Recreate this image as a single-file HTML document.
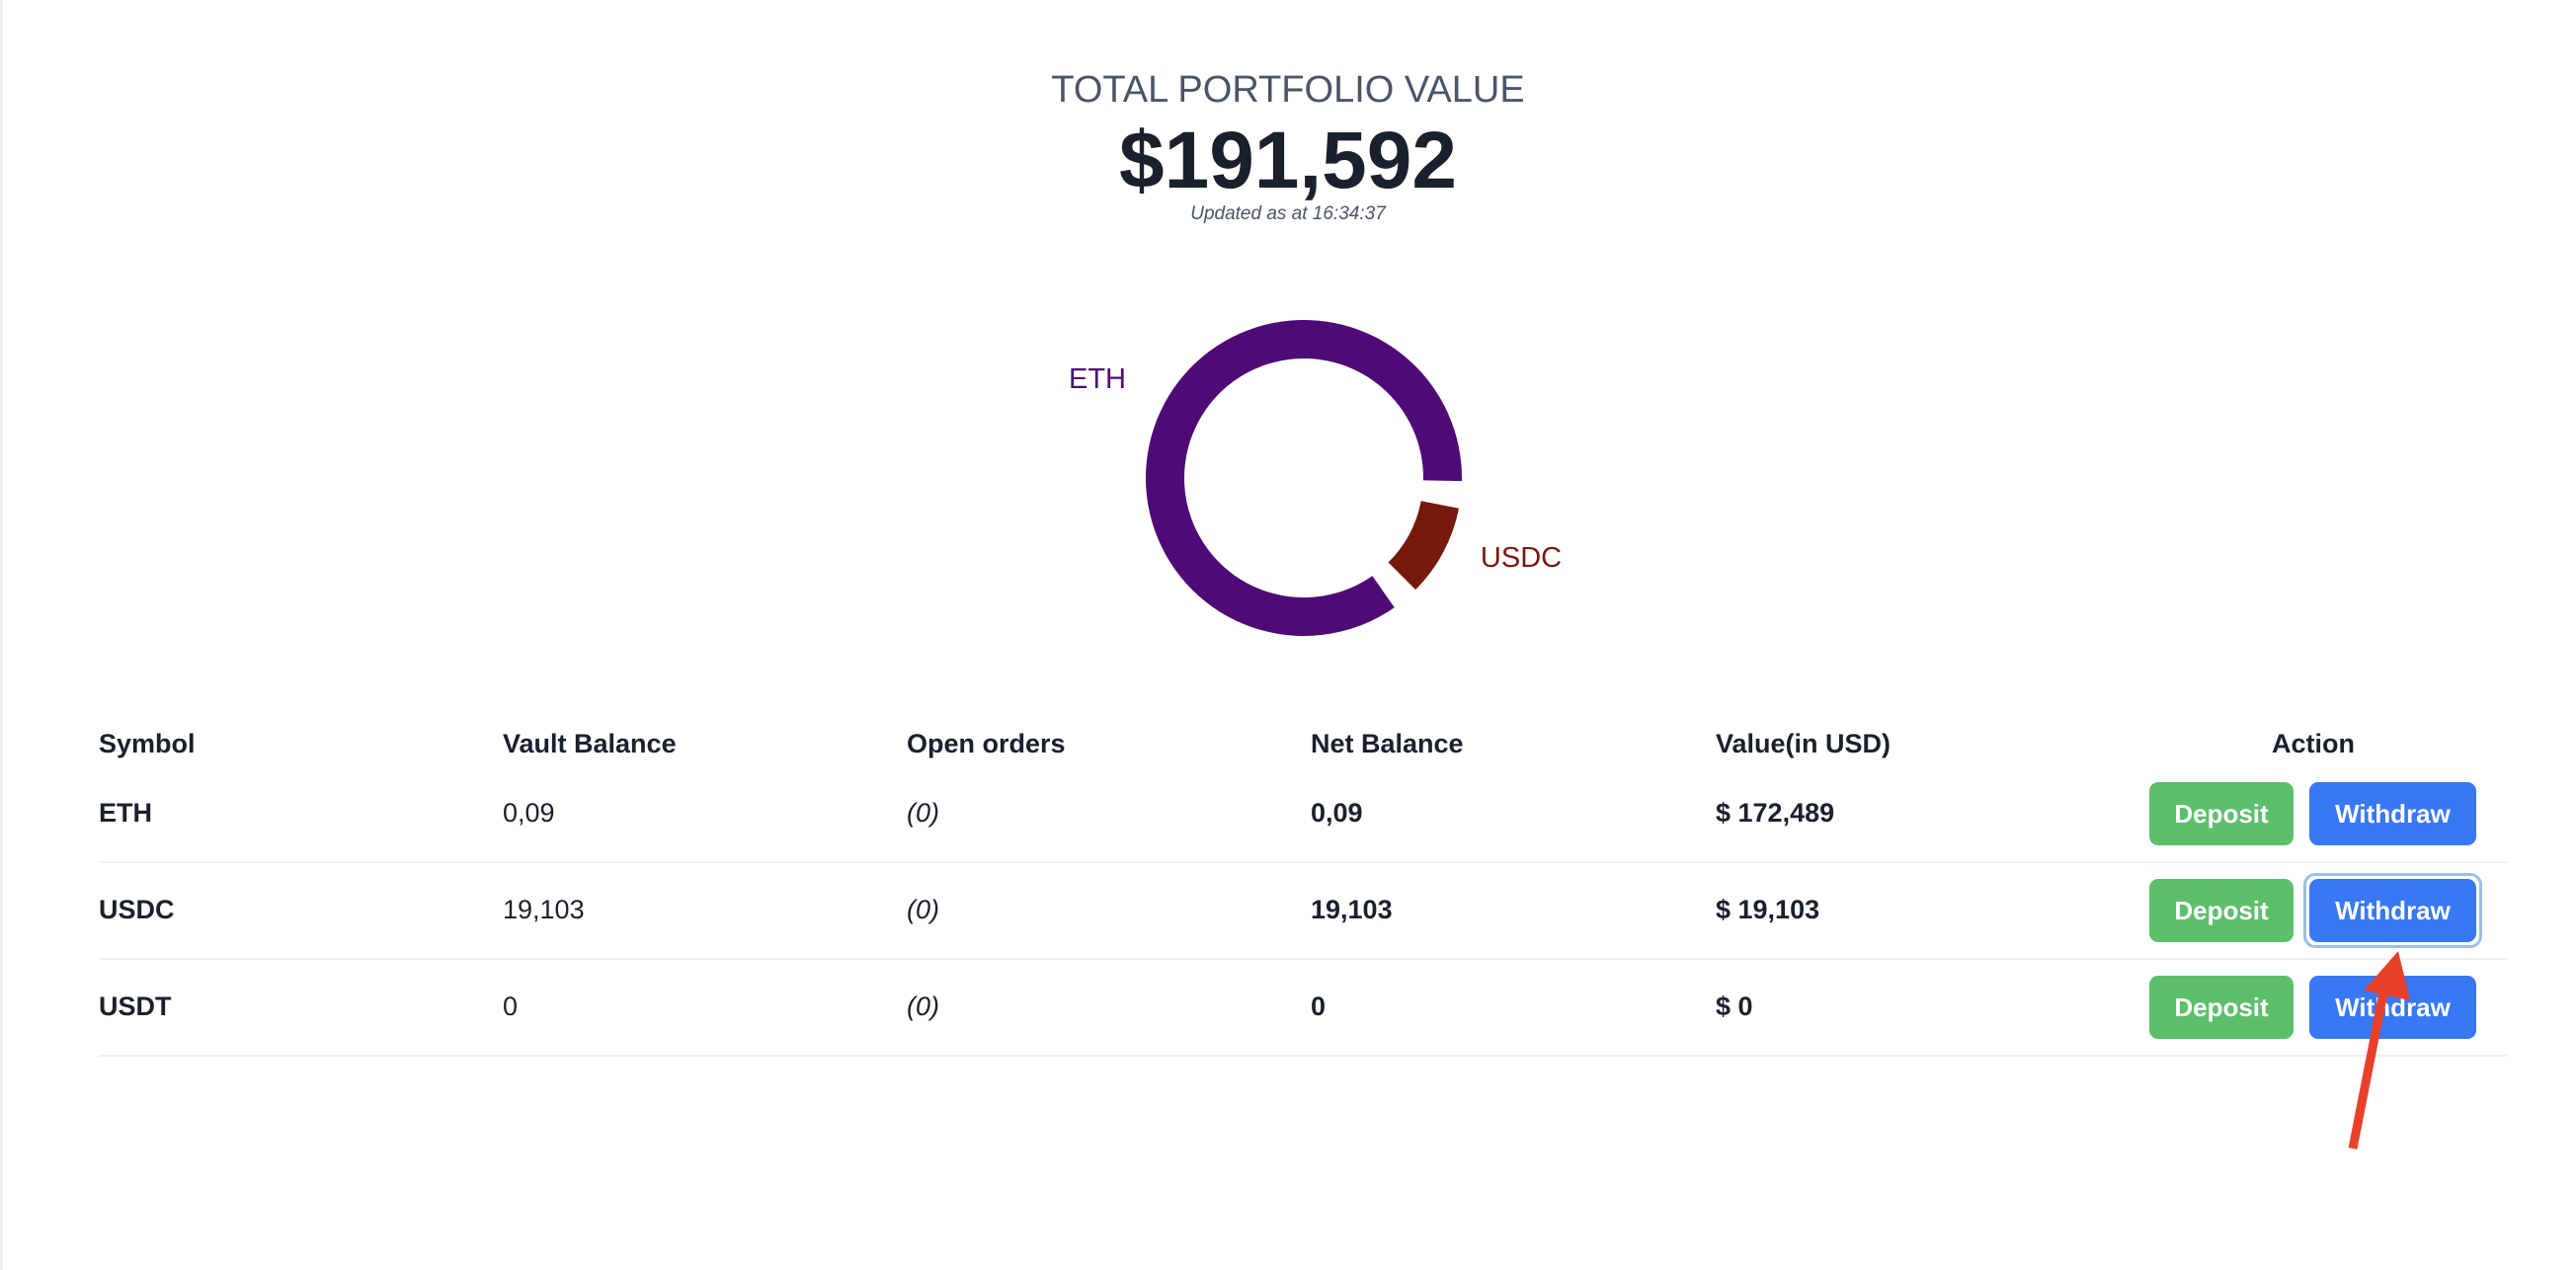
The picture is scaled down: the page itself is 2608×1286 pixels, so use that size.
<!DOCTYPE html>
<html><head><meta charset="utf-8"><style>
body{margin:0;width:2608px;height:1286px;background:#fff;font-family:"Liberation Sans",sans-serif;color:#1a202c;position:relative;overflow:hidden}
.a{position:absolute;white-space:nowrap}
.hd{font-weight:bold;font-size:27px;top:738px}
.c{font-size:27px}
.btn{position:absolute;height:64px;border-radius:9px;color:#fff;font-size:26px;font-weight:bold;display:flex;align-items:center;justify-content:center}
.dep{background:#5ebf6b;left:2176px;width:146px}
.wd{background:#3878f5;left:2338px;width:169px}
.line{position:absolute;left:100px;width:2438px;height:2px;background:#edf0f4}
</style></head><body>
<div class="a" style="left:0;top:0;width:3px;height:1286px;background:#eee"></div>
<div class="a" style="left:0;width:2608px;text-align:center;top:70px;font-size:38px;color:#4a5568">TOTAL PORTFOLIO VALUE</div>
<div class="a" style="left:0;width:2608px;text-align:center;top:116px;font-size:82px;font-weight:bold;color:#1a202c">$191,592</div>
<div class="a" style="left:0;width:2608px;text-align:center;top:206px;font-size:19px;font-style:italic;color:#4a5568">Updated as at 16:34:37</div>
<svg class="a" id="donut" style="left:0;top:0" width="2608" height="760"></svg>
<script>
const labels=["ETH","USDC"];
const values=[172489,19103];
const colors=["#4e0b75","#761a0e"];
const svg=document.getElementById('donut');
const cx=1320,cy=484,ro=160,ri=121,pad=10,startDeg=55;
const total=values.reduce((a,b)=>a+b,0);
let ang=startDeg;
function pt(r,d){const t=d*Math.PI/180;return [cx+r*Math.cos(t),cy+r*Math.sin(t)];}
const labelPos=[[1111,383],[1540,564]];
values.forEach((v,i)=>{
 const span=v/total*(360-pad*values.length);
 const a0=ang,a1=ang+span;
 const large=span>180?1:0;
 const p0=pt(ro,a0),p1=pt(ro,a1),p2=pt(ri,a1),p3=pt(ri,a0);
 const path=document.createElementNS('http://www.w3.org/2000/svg','path');
 path.setAttribute('d',`M${p0[0]},${p0[1]}A${ro},${ro} 0 ${large} 1 ${p1[0]},${p1[1]}L${p2[0]},${p2[1]}A${ri},${ri} 0 ${large} 0 ${p3[0]},${p3[1]}Z`);
 path.setAttribute('fill',colors[i]);
 
 
 svg.appendChild(path);
 const t=document.createElementNS('http://www.w3.org/2000/svg','text');
 t.setAttribute('x',labelPos[i][0]);t.setAttribute('y',labelPos[i][1]+10);
 t.setAttribute('text-anchor','middle');t.setAttribute('font-size','29');
 t.setAttribute('font-family','Liberation Sans, sans-serif');t.setAttribute('fill',colors[i]);
 t.textContent=labels[i];
 
 
 svg.appendChild(t);
 ang=a1+pad;
});
</script>
<div class="a hd" style="left:100px">Symbol</div>
<div class="a hd" style="left:509px">Vault Balance</div>
<div class="a hd" style="left:918px">Open orders</div>
<div class="a hd" style="left:1327px">Net Balance</div>
<div class="a hd" style="left:1737px">Value(in USD)</div>
<div class="a hd" style="left:2242px;width:200px;text-align:center">Action</div>

<div class="a c" style="left:100px;top:808px;font-weight:bold">ETH</div>
<div class="a c" style="left:509px;top:808px">0,09</div>
<div class="a c" style="left:918px;top:808px;font-style:italic">(0)</div>
<div class="a c" style="left:1327px;top:808px;font-weight:bold">0,09</div>
<div class="a c" style="left:1737px;top:808px;font-weight:bold">$ 172,489</div>
<div class="btn dep" style="top:792px">Deposit</div>
<div class="btn wd" style="top:792px">Withdraw</div>
<div class="line" style="top:872px"></div>

<div class="a c" style="left:100px;top:906px;font-weight:bold">USDC</div>
<div class="a c" style="left:509px;top:906px">19,103</div>
<div class="a c" style="left:918px;top:906px;font-style:italic">(0)</div>
<div class="a c" style="left:1327px;top:906px;font-weight:bold">19,103</div>
<div class="a c" style="left:1737px;top:906px;font-weight:bold">$ 19,103</div>
<div class="btn dep" style="top:890px">Deposit</div>
<div class="a" style="left:2332px;top:884px;width:175px;height:70px;border:3px solid #9ac0e6;border-radius:12px"></div>
<div class="btn wd" style="top:890px">Withdraw</div>
<div class="line" style="top:970px"></div>

<div class="a c" style="left:100px;top:1004px;font-weight:bold">USDT</div>
<div class="a c" style="left:509px;top:1004px">0</div>
<div class="a c" style="left:918px;top:1004px;font-style:italic">(0)</div>
<div class="a c" style="left:1327px;top:1004px;font-weight:bold">0</div>
<div class="a c" style="left:1737px;top:1004px;font-weight:bold">$ 0</div>
<div class="btn dep" style="top:988px">Deposit</div>
<div class="btn wd" style="top:988px">Withdraw</div>
<div class="line" style="top:1068px"></div>

<svg class="a" style="left:0;top:0" width="2608" height="1286">
<line x1="2382" y1="1163" x2="2413" y2="1005" stroke="#e8412a" stroke-width="9"/>
<polygon points="2428,963 2393,1003 2440,1013" fill="#e8412a"/>
</svg>
</body></html>
